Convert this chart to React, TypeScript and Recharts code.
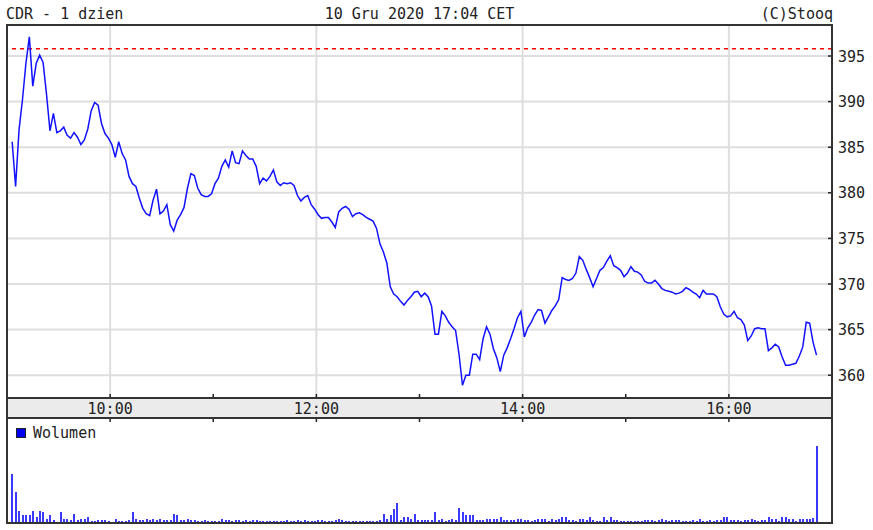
import React from 'react';
import {
  LineChart,
  Line,
  BarChart,
  Bar,
  XAxis,
  YAxis,
  CartesianGrid,
  ReferenceLine,
} from 'recharts';

// intraday CDR, 2-minute points starting 9:03 (minutes since midnight)
const START_MIN = 543;
const STEP_MIN = 2;

const prices = [
  385.6, 380.7, 386.9, 390.2, 394.2, 397.1, 391.7, 394.2, 395.1, 394.3,
  390.8, 386.8, 388.7, 386.6, 386.8, 387.2, 386.3, 386.0, 386.6, 386.1,
  385.3, 385.8, 387.0, 389.0, 389.9, 389.6, 387.6, 386.5, 386.0, 385.3,
  383.9, 385.6, 384.3, 383.6, 381.8, 381.0, 380.7, 379.4, 378.3, 377.7,
  377.5, 379.2, 380.4, 377.7, 378.0, 378.7, 376.5, 375.8, 377.0, 377.6,
  378.4, 380.5, 382.1, 381.9, 380.5, 379.8, 379.6, 379.6, 379.9, 381.0,
  381.6, 382.9, 383.6, 382.8, 384.6, 383.3, 383.2, 384.6, 384.1, 383.7,
  383.7, 382.9, 381.0, 381.6, 381.3, 381.8, 382.5, 381.2, 380.8, 381.1,
  381.0, 381.1, 380.8, 379.7, 379.1, 379.5, 379.7, 378.7, 378.2, 377.6,
  377.2, 377.3, 377.3, 376.8, 376.2, 377.9, 378.3, 378.5, 378.2, 377.4,
  377.7, 377.8, 377.6, 377.3, 377.1, 376.9, 376.1, 374.4, 373.5, 372.3,
  369.7, 368.9, 368.6, 368.1, 367.7, 368.2, 368.6, 369.1, 369.2, 368.6,
  369.0, 368.6, 367.6, 364.5, 364.5, 367.0, 366.5, 365.8, 365.3, 364.9,
  362.3, 358.9, 360.0, 360.0, 362.3, 362.3, 361.7, 364.0, 365.3, 364.5,
  362.9, 361.9, 360.4, 362.2, 363.0, 364.0, 365.1, 366.3, 367.0, 364.2,
  365.2, 365.8, 366.6, 367.2, 367.1, 365.7, 366.4, 367.1, 367.6, 368.3,
  370.7, 370.5, 370.4, 370.6, 371.2, 373.0, 372.6, 371.6, 370.7, 369.7,
  370.6, 371.5, 371.8, 372.5, 373.1, 372.0, 371.8, 371.5, 370.8, 371.2,
  371.9, 371.4, 371.3, 371.0, 370.3, 370.1, 370.1, 370.4, 370.0, 369.5,
  369.3, 369.2, 369.1, 368.9, 369.0, 369.2, 369.6, 369.4, 369.1, 368.9,
  368.5, 369.3, 368.9, 368.9, 368.9, 368.6, 367.5, 366.7, 366.4, 366.5,
  367.0, 366.3, 366.1, 365.5, 363.8, 364.3, 365.1, 365.2, 365.1, 365.1,
  362.7, 363.0, 363.4, 363.1, 362.0, 361.1, 361.1, 361.2, 361.3, 362.1,
  363.1, 365.8, 365.7, 363.6, 362.2,
];

// volume, thousands of shares
const volumes = [
  48.7, 31, 12, 7.7, 7.7, 7.7, 12, 6, 12, 11,
  4.3, 7.7, 3.3, 1, 11, 4.3, 4.3, 2.7, 9.3, 3.3,
  4.3, 4.3, 6, 1.7, 1.7, 3.3, 3.3, 2.7, 1.7, 1,
  4.3, 1.7, 1.7, 1.7, 2.7, 11, 4.3, 3.3, 3.3, 4.3,
  2.7, 4.3, 3.3, 4.3, 2.7, 3.3, 3.3, 9.3, 7.7, 3.3,
  3.3, 4.3, 3.3, 2.7, 1.7, 1.7, 2.7, 1.7, 1.7, 1.7,
  1.7, 4.3, 3.3, 3.3, 1.7, 2.7, 3.3, 1.7, 2.7, 1.7,
  2.7, 2.7, 1.7, 1.7, 1.7, 1.7, 1.7, 1.7, 1.7, 1.7,
  2.7, 1.7, 1.7, 3.3, 1.7, 2.7, 1.7, 1.7, 1.7, 3.3,
  3.3, 1.7, 1.7, 1.7, 2.7, 4.3, 3.3, 1.7, 1.7, 1.7,
  1.7, 1.7, 1.7, 1.7, 1.7, 1.7, 1.7, 3.3, 9.3, 4.3,
  7.7, 14.3, 20.3, 3.3, 6, 6, 4.3, 9.3, 2.7, 2.7,
  2.7, 2.7, 2.7, 11, 3.3, 4.3, 1.7, 2.7, 4.3, 3.3,
  15.3, 11, 7.7, 7.7, 7.7, 2.7, 3.3, 3.3, 4.3, 4.3,
  4.3, 4.3, 6, 3.3, 3.3, 3.3, 3.3, 4.3, 4.3, 3.3,
  3.3, 1.7, 3.3, 4.3, 4.3, 4.3, 1.7, 4.3, 3.3, 4.3,
  6, 6, 3.3, 3.3, 1.7, 4.3, 4.3, 3.3, 6, 3.3,
  1.7, 1.7, 6, 3.3, 6, 3.3, 3.3, 1.7, 1.7, 1.7,
  1.7, 1.7, 1.7, 1.7, 3.3, 2.7, 2.7, 1.7, 2.7, 4.3,
  3.3, 1.7, 3.3, 3.3, 3.3, 1.7, 1.7, 1.7, 2.7, 1.7,
  4.3, 1.7, 1.7, 3.3, 1.7, 3.3, 3.3, 6, 6, 3.3,
  2.7, 3.3, 1.7, 2.7, 3.3, 4.3, 3.3, 1.7, 2.7, 3.3,
  6, 4.3, 4.3, 1.7, 6, 6, 4.3, 4.3, 1.7, 4.3,
  4.3, 4.3, 4.3, 5.3, 76.7,
];

const priceTicks = [360, 365, 370, 375, 380, 385, 390, 395];
const hourTicks = [600, 660, 720, 780, 840, 900, 960];
const gridTimes = [600, 720, 840, 960];
const refPrice = 395.8;

const data = prices.map((p, i) => ({
  t: START_MIN + i * STEP_MIN,
  price: p,
  vol: volumes[i],
}));

const W = 873;
const H = 530;
const LEFT = 7;
const RIGHT = 832;
const TOP = 25;
const PRICE_BOTTOM = 398;
const BAND_BOTTOM = 418;
const VOL_BOTTOM = 523;
const FONT = '"DejaVu Sans Mono", monospace';
const INK = '#222';
const GRID = '#dedede';

const fmtTime = (m: number) => `${Math.floor(m / 60)}:${String(m % 60).padStart(2, '0')}`;

const RightTick = ({ x, y, payload }: any) => (
  <g>
    <line x1={x - 10} x2={x - 6} y1={y} y2={y} stroke={INK} strokeWidth={1.5} />
    <text x={x} y={y + 5.5} fill={INK} fontSize={15} fontFamily={FONT}>
      {payload.value}
    </text>
  </g>
);

const LeftTick = ({ x, y }: any) => (
  <line x1={x} x2={x + 4} y1={y} y2={y} stroke={INK} strokeWidth={1.5} />
);

const TopTick = ({ x, y }: any) => (
  <line x1={x} x2={x} y1={y} y2={y + 5} stroke={INK} strokeWidth={1.5} />
);

const BottomTick = ({ x, y, payload }: any) => (
  <g>
    <line x1={x} x2={x} y1={y - 4} y2={y} stroke={INK} strokeWidth={1.5} />
    <line x1={x} x2={x} y1={y + 20} y2={y + 24} stroke={INK} strokeWidth={1.5} />
    {payload.value % 120 === 0 && (
      <text x={x} y={y + 15.5} textAnchor="middle" fill={INK} fontSize={15} fontFamily={FONT}>
        {fmtTime(payload.value)}
      </text>
    )}
  </g>
);

// snap volume bars to whole pixels so they stay crisp
const VolBar = ({ x, y, width, height, fill }: any) => {
  if (!height || height <= 0) return null;
  const left = Math.round(x);
  const top = Math.round(y);
  const bottom = Math.round(y + height);
  return <rect x={left} y={top} width={Math.max(2, Math.round(width))} height={Math.max(1, bottom - top)} fill={fill} />;
};

const layer: React.CSSProperties = { position: 'absolute', left: 0, top: 0 };

export default function App() {
  return (
    <div style={{ position: 'absolute', left: 0, top: 0, width: W, height: H, background: '#fff' }}>
      {/* time band background */}
      <svg width={W} height={H} style={layer}>
        <rect x={LEFT} y={PRICE_BOTTOM} width={RIGHT - LEFT} height={BAND_BOTTOM - PRICE_BOTTOM} fill="#ebebeb" />
      </svg>

      {/* price panel */}
      <div style={layer}>
        <LineChart width={W} height={424} data={data} margin={{ top: TOP, right: 0, bottom: 6, left: LEFT }}>
          <CartesianGrid stroke={GRID} strokeWidth={2} verticalValues={gridTimes} />
          <XAxis
            dataKey="t"
            type="number"
            domain={[540, 1020]}
            allowDataOverflow
            ticks={hourTicks}
            interval={0}
            height={20}
            tickSize={0}
            tickMargin={0}
            tickLine={false}
            axisLine={false}
            tick={BottomTick}
          />
          <XAxis
            xAxisId="top"
            orientation="top"
            dataKey="t"
            type="number"
            domain={[540, 1020]}
            allowDataOverflow
            ticks={hourTicks}
            interval={0}
            height={0}
            tickSize={0}
            tickMargin={0}
            tickLine={false}
            axisLine={false}
            tick={TopTick}
          />
          <YAxis
            orientation="right"
            type="number"
            domain={[357.5, 398.4]}
            allowDataOverflow
            ticks={priceTicks}
            interval={0}
            width={W - RIGHT}
            tickSize={0}
            tickMargin={6}
            tickLine={false}
            axisLine={false}
            tick={RightTick}
          />
          <YAxis
            yAxisId="left"
            orientation="left"
            type="number"
            domain={[357.5, 398.4]}
            allowDataOverflow
            ticks={priceTicks}
            interval={0}
            width={0}
            tickSize={0}
            tickMargin={0}
            tickLine={false}
            axisLine={false}
            tick={LeftTick}
          />
          <ReferenceLine y={refPrice} stroke="#ff0000" strokeDasharray="4 4" strokeWidth={1.5} />
          <Line
            type="linear"
            dataKey="price"
            stroke="#1212ff"
            strokeWidth={1.5}
            dot={false}
            isAnimationActive={false}
          />
        </LineChart>
      </div>

      {/* volume panel */}
      <div style={layer}>
        <BarChart
          width={W}
          height={H}
          data={data}
          margin={{ top: BAND_BOTTOM + 1, right: W - RIGHT, bottom: H - VOL_BOTTOM, left: LEFT }}
        >
          <CartesianGrid stroke={GRID} strokeWidth={2} horizontal={false} />
          <XAxis
            dataKey="t"
            type="number"
            domain={[540, 1020]}
            allowDataOverflow
            ticks={gridTimes}
            height={0}
            tick={false}
            tickLine={false}
            axisLine={false}
          />
          <YAxis hide domain={[0, 104]} />
          <Bar dataKey="vol" fill="#3a3aff" barSize={2} shape={VolBar} isAnimationActive={false} />
        </BarChart>
      </div>

      {/* frame, titles, legend */}
      <svg width={W} height={H} style={{ ...layer, pointerEvents: 'none' }} fontFamily={FONT} fontSize={15} fill={INK}>
        <g stroke="#333" strokeWidth={2}>
          <line x1={LEFT} x2={RIGHT} y1={TOP} y2={TOP} />
          <line x1={LEFT} x2={LEFT} y1={TOP - 1} y2={VOL_BOTTOM + 1} />
          <line x1={RIGHT} x2={RIGHT} y1={TOP - 1} y2={VOL_BOTTOM + 1} />
          <line x1={LEFT} x2={RIGHT} y1={VOL_BOTTOM} y2={VOL_BOTTOM} />
          <line x1={LEFT} x2={RIGHT} y1={PRICE_BOTTOM} y2={PRICE_BOTTOM} />
          <line x1={LEFT} x2={RIGHT} y1={BAND_BOTTOM} y2={BAND_BOTTOM} />
        </g>
        <text x={6} y={18.5}>CDR - 1 dzien</text>
        <text x={(LEFT + RIGHT) / 2} y={18.5} textAnchor="middle">10 Gru 2020 17:04 CET</text>
        <text x={RIGHT + 1} y={18.5} textAnchor="end">(C)Stooq</text>
        <rect x={16.5} y={428.5} width={9} height={9} fill="#0000ee" stroke="#222" strokeWidth={1} />
        <text x={33} y={438}>Wolumen</text>
      </svg>
    </div>
  );
}
